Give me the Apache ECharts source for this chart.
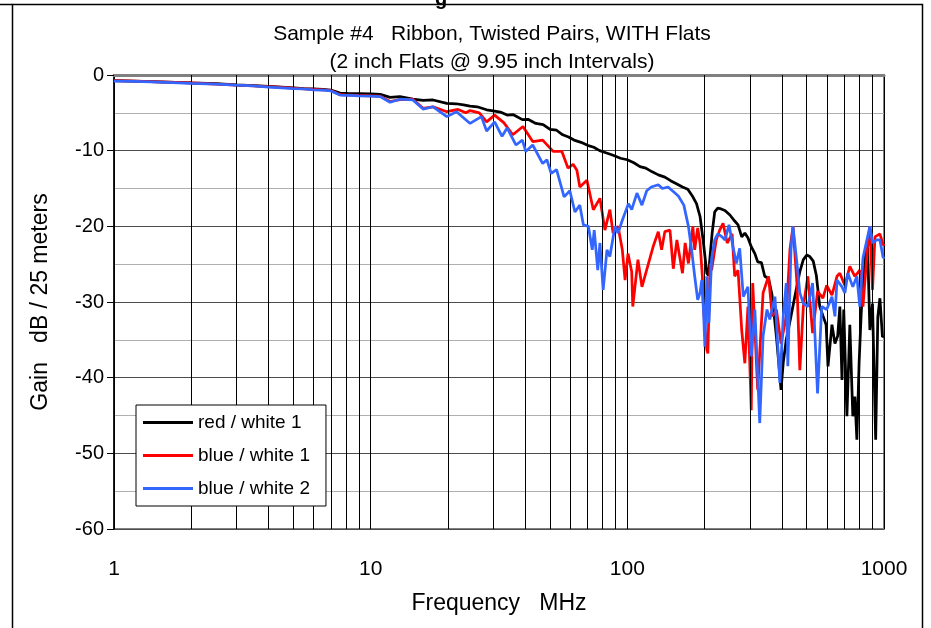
<!DOCTYPE html>
<html>
<head>
<meta charset="utf-8">
<style>
  html, body { margin: 0; padding: 0; background: #fff; }
  #chart { width: 931px; height: 628px; }
</style>
<script src="https://cdn.jsdelivr.net/npm/echarts@6/dist/echarts.min.js"></script>
</head>
<body>
<div id="chart"></div>
<script>
// Gain vs frequency, [MHz, dB / 25 m]
const redWhite1 = [
  [1,-0.75],[1.2,-0.8],[1.5,-0.9],[2,-1.05],[2.5,-1.15],[3,-1.3],[3.5,-1.4],[4,-1.5],[4.5,-1.6],[5,-1.7],
  [5.5,-1.8],[6,-1.85],[6.5,-1.9],[7,-2.0],[7.6,-2.4],[8.3,-2.45],[9,-2.45],[10,-2.5],[10.9,-2.55],[11.9,-2.95],
  [13,-2.85],[14.6,-3.2],[16,-3.35],[17.5,-3.3],[19.8,-3.75],[21.5,-3.8],[23,-3.95],[24.4,-4.1],[26,-4.2],[28.3,-4.6],
  [30,-4.75],[32,-4.9],[34,-5.3],[36,-5.25],[39,-5.9],[41,-5.85],[44,-6.4],[47,-6.55],[50,-7.2],[53,-7.3],
  [56,-7.9],[59,-8.2],[62,-8.6],[66,-8.9],[70,-9.3],[74,-9.55],[78,-10.0],[83,-10.3],[88,-10.6],[94,-11.0],
  [100,-11.2],[106,-11.6],[112,-12.1],[118,-12.3],[125,-12.8],[132,-13.2],[140,-13.5],[148,-14.0],[156,-14.4],[164,-14.8],
  [172,-15.1],[180,-16.1],[186,-17.0],[192,-18.7],[198,-22.2],[204,-26.2],[207,-26.5],[210,-24.0],[214,-20.9],[219,-18.1],
  [225,-17.6],[232,-17.7],[240,-17.9],[251,-18.5],[262,-19.3],[270,-19.8],[279,-21.4],[287,-20.9],[295,-21.5],[304,-22.7],
  [314,-23.6],[322,-24.7],[333,-24.8],[343,-26.6],[355,-26.9],[366,-29.0],[381,-34.6],[390,-38.5],[397,-41.6],[405,-38.0],
  [416,-35.0],[434,-31.9],[454,-28.5],[470,-26.0],[485,-24.4],[500,-23.8],[514,-24.0],[530,-24.6],[545,-26.5],[562,-30.6],
  [578,-31.8],[595,-33.0],[605,-38.5],[627,-33.0],[644,-35.5],[660,-34.5],[673,-30.6],[686,-40.3],[697,-31.0],[717,-45.1],
  [736,-33.0],[756,-45.1],[770,-42.5],[784,-48.2],[800,-38.0],[815,-31.5],[828,-27.5],[845,-24.0],[862,-21.8],[881,-33.7],
  [902,-30.2],[928,-48.2],[946,-32.0],[964,-29.5],[986,-34.6],[1000,-34.5]
];
const blueWhite1 = [
  [1,-0.75],[1.2,-0.8],[1.5,-0.9],[2,-1.05],[2.5,-1.2],[3,-1.35],[3.5,-1.45],[4,-1.55],[4.5,-1.65],[5,-1.75],
  [5.5,-1.85],[6,-1.9],[6.5,-1.95],[7,-2.05],[7.6,-2.6],[8.3,-2.65],[9,-2.7],[10,-2.75],[10.9,-2.8],[11.9,-3.5],
  [13,-3.25],[14.6,-3.2],[16,-4.4],[17.5,-4.2],[19.8,-4.85],[21.9,-4.55],[23.5,-5.0],[24.4,-4.7],[26.5,-5.0],[28.3,-6.2],
  [30.4,-5.3],[33,-6.3],[35.8,-7.9],[39.2,-6.8],[42.8,-8.8],[46.8,-8.6],[51.4,-10.1],[55.6,-10.1],[58.7,-12.3],[61.5,-11.8],
  [63.6,-12.6],[65.3,-14.8],[69.6,-13.9],[73.7,-17.8],[78.2,-16.3],[81.8,-20.5],[85.5,-17.8],[88,-20.9],[92,-20.0],[95.6,-23.1],
  [98,-27.1],[100.6,-23.6],[104,-26.0],[105,-30.6],[110,-24.4],[114,-28.0],[120,-25.3],[126,-22.7],[132,-20.7],[136,-23.1],
  [140,-20.7],[146.6,-20.5],[151,-25.6],[156,-21.8],[164,-26.2],[168,-22.2],[173,-24.9],[180,-20.0],[183,-23.1],[188,-20.2],
  [192,-22.2],[196,-26.6],[198,-31.0],[204,-36.3],[206,-36.8],[210,-24.9],[213,-25.8],[222,-21.8],[229,-20.5],[236,-19.6],
  [245,-22.2],[256,-21.0],[262,-26.6],[270,-25.8],[279,-33.7],[287,-38.1],[295,-30.6],[304,-44.3],[308,-27.5],[322,-41.6],
  [338,-28.8],[355,-26.6],[367,-31.9],[381,-31.0],[397,-35.5],[416,-31.9],[430,-23.1],[442,-20.0],[458,-27.5],[470,-39.0],
  [485,-30.6],[505,-26.6],[527,-34.1],[551,-28.6],[578,-29.5],[598,-27.8],[627,-29.1],[656,-26.6],[673,-26.2],[704,-27.8],
  [736,-25.3],[770,-26.6],[805,-25.8],[828,-30.6],[862,-22.9],[881,-20.0],[902,-28.4],[922,-21.4],[964,-21.0],[993,-22.5],
  [1000,-22.3]
];
const blueWhite2 = [
  [1,-0.8],[1.2,-0.85],[1.5,-0.95],[2,-1.1],[2.5,-1.2],[3,-1.35],[3.5,-1.45],[4,-1.6],[4.5,-1.7],[5,-1.8],
  [5.5,-1.85],[6,-1.95],[6.5,-2.0],[7,-2.1],[7.6,-2.65],[8.3,-2.7],[9,-2.75],[10,-2.8],[10.9,-2.85],[11.9,-3.6],
  [13,-3.2],[14.6,-3.3],[16,-4.5],[17.5,-4.2],[19.8,-5.5],[21.6,-4.85],[24.4,-6.4],[27,-5.5],[28.3,-7.4],[30.4,-6.2],
  [32.5,-8.1],[34,-7.0],[36.8,-9.25],[39,-8.6],[40.2,-10.1],[42.8,-9.25],[46.8,-11.7],[48.6,-11.2],[50.5,-13.0],[53,-12.5],
  [56.7,-16.1],[59.7,-15.3],[62.5,-18.1],[65.3,-17.2],[67.4,-19.8],[70.5,-20.0],[73,-23.1],[74.3,-20.5],[76.7,-25.8],[78.2,-22.2],
  [80.5,-28.4],[83.3,-23.1],[85.5,-24.0],[89.5,-20.0],[92,-20.9],[95.6,-19.2],[101,-17.0],[104,-17.8],[109,-15.6],[114,-17.2],
  [119,-15.3],[124,-14.8],[132,-14.5],[137,-15.0],[144,-14.8],[151,-15.4],[158,-16.0],[166,-17.2],[173,-20.0],[178,-23.1],
  [183,-26.6],[188,-29.7],[192,-28.8],[195,-27.1],[198,-31.0],[200.5,-35.9],[204,-26.6],[208,-32.8],[213,-24.2],[219,-21.8],
  [225,-21.0],[234,-21.4],[240,-21.8],[249,-19.8],[258,-22.7],[266,-24.9],[274,-22.9],[283,-29.3],[295,-28.0],[304,-37.2],
  [314,-31.0],[328,-46.0],[338,-34.5],[350,-31.0],[359,-32.3],[376,-29.3],[393,-40.7],[405,-31.9],[416,-27.5],[422,-38.5],
  [434,-23.1],[442,-20.0],[458,-24.9],[470,-28.8],[485,-30.2],[505,-30.6],[527,-27.5],[551,-42.1],[572,-30.6],[598,-31.0],
  [627,-29.3],[644,-31.9],[656,-27.1],[686,-28.0],[704,-28.8],[723,-26.2],[756,-28.0],[784,-26.6],[805,-30.6],[828,-24.2],
  [881,-20.0],[902,-22.2],[936,-21.8],[964,-21.8],[993,-24.2],[1000,-24.0]
];

const seriesNames = ['red / white 1', 'blue / white 1', 'blue / white 2'];
const seriesColors = ['#000000', '#FF0000', '#3366FF'];
// Intermediate decade gridlines (2..9 of each decade)
const minorFreqs = [2,3,4,5,6,7,8,9,20,30,40,50,60,70,80,90,200,300,400,500,600,700,800,900];

const FONT = '"Liberation Sans", Arial, sans-serif';
const chart = echarts.init(document.getElementById('chart'), null, { renderer: 'canvas' });

const lineSeries = [redWhite1, blueWhite1, blueWhite2].map((d, i) => ({
  name: seriesNames[i],
  type: 'line',
  data: d,
  showSymbol: false,
  symbol: 'none',
  lineStyle: { color: seriesColors[i], width: 2.75 },
  itemStyle: { color: seriesColors[i] },
  z: 3 + i,
  animation: false
}));

chart.setOption({
  backgroundColor: '#ffffff',
  animation: false,
  title: {
    text: 'Sample #4   Ribbon, Twisted Pairs, WITH Flats\n(2 inch Flats @ 9.95 inch Intervals)',
    left: 487, top: 15, textAlign: 'center',
    textStyle: { fontFamily: FONT, fontSize: 21, fontWeight: 'normal', color: '#000', lineHeight: 28 }
  },
  legend: {
    orient: 'vertical',
    left: 136, top: 405,
    z: 20,
    padding: [8, 16, 8, 7],
    itemGap: 14,
    itemWidth: 50, itemHeight: 3,
    icon: 'rect',
    backgroundColor: '#fff',
    borderColor: '#000', borderWidth: 1,
    textStyle: { fontFamily: FONT, fontSize: 19, color: '#000' },
    data: seriesNames
  },
  grid: {
    left: 114, right: 47, top: 75, bottom: 99,
    show: true, borderColor: '#808080', borderWidth: 2, backgroundColor: 'transparent'
  },
  xAxis: {
    type: 'log', logBase: 10, min: 1, max: 1000,
    name: 'Frequency   MHz', nameLocation: 'middle', nameGap: 63,
    nameTextStyle: { fontFamily: FONT, fontSize: 23, color: '#000' },
    axisLine: { show: true, lineStyle: { color: '#808080', width: 3 } },
    axisTick: { show: false },
    axisLabel: { fontFamily: FONT, fontSize: 21, color: '#000', margin: 30,
      formatter: v => String(Math.round(v)) },
    splitLine: { show: true, lineStyle: { color: '#000', width: 1 } }
  },
  yAxis: {
    type: 'value', min: -60, max: 0, interval: 10,
    name: 'Gain   dB / 25 meters', nameLocation: 'middle', nameGap: 62,
    nameTextStyle: { fontFamily: FONT, fontSize: 23, color: '#000' },
    axisLine: { show: true, onZero: false, lineStyle: { color: '#000', width: 1.5 } },
    axisTick: { show: true, length: 7, lineStyle: { color: '#000', width: 1 } },
    axisLabel: { fontFamily: FONT, fontSize: 20, color: '#000', margin: 10 },
    splitLine: { show: true, lineStyle: { color: '#4d4d4d', width: 1 } },
    minorTick: { show: false, splitNumber: 2 },
    minorSplitLine: { show: true, lineStyle: { color: '#b0b0b0', width: 1 } }
  },
  graphic: [
    { type: 'rect', silent: true, z: 100,
      shape: { x: 12.5, y: 4.5, width: 910, height: 700 },
      style: { fill: 'none', stroke: '#000', lineWidth: 1.5 } },
    { type: 'line', silent: true, z: 100,
      shape: { x1: 0, y1: 4.5, x2: 12.5, y2: 4.5 },
      style: { stroke: '#000', lineWidth: 1.5 } },
    { type: 'text', silent: true, z: 100,
      style: { text: 'g', x: 441, y: 9, textAlign: 'center', textVerticalAlign: 'bottom',
        font: 'bold 20px "Liberation Sans", Arial, sans-serif', fill: '#000' } }
  ],
  series: [
    {
      type: 'line', data: [], silent: true, z: 1,
      markLine: {
        silent: true, symbol: ['none', 'none'], animation: false,
        label: { show: false },
        lineStyle: { color: '#000', width: 1, type: 'solid' },
        emphasis: { disabled: true },
        data: minorFreqs.map(v => ({ xAxis: v }))
      }
    },
    ...lineSeries
  ]
});
</script>
</body>
</html>
